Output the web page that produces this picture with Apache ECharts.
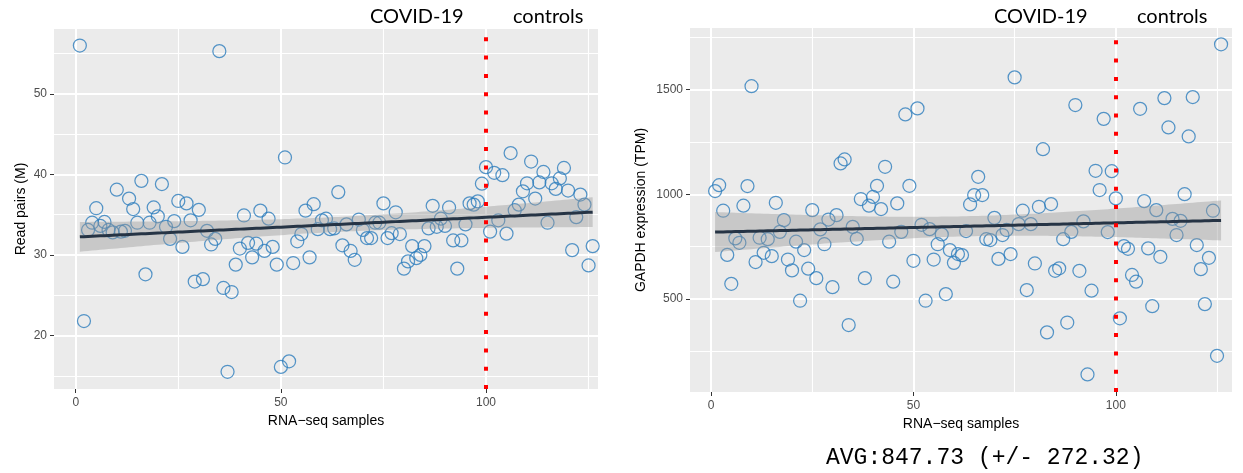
<!DOCTYPE html>
<html><head><meta charset="utf-8">
<script src="https://cdn.jsdelivr.net/npm/echarts@6/dist/echarts.min.js"></script>
<style>html,body{margin:0;padding:0;background:#fff}#c{width:1243px;height:473px}</style>
</head><body><div id="c"></div>
<script>
const samples = [1,2,3,4,5,6,7,8,9,10,11,12,13,14,15,16,17,18,19,20,21,22,23,24,25,26,27,28,29,30,
31,32,33,34,35,36,37,38,39,40,41,42,43,44,45,46,47,48,49,50,51,52,53,54,55,56,57,58,59,60,
61,62,63,64,65,66,67,68,69,70,71,72,73,74,75,76,77,78,79,80,81,82,83,84,85,86,87,88,89,90,
91,92,93,94,95,96,97,98,99,100,101,102,103,104,105,106,107,108,109,110,111,112,113,114,115,116,117,118,119,120,
121,122,123,124,125,126];
const readPairs = [56.0,21.8,33.1,34.0,35.8,33.6,34.1,33.1,32.8,38.1,
32.9,33.0,37.0,35.7,34.0,39.2,27.6,34.0,35.9,34.8,
38.8,33.5,32.0,34.2,36.7,31.0,36.4,34.3,26.7,35.6,
27.0,33.0,31.3,32.0,55.3,25.9,15.5,25.4,28.8,30.8,
34.9,31.5,29.7,31.4,35.5,30.5,34.5,31.0,28.8,16.1,
42.1,16.8,29.0,31.7,32.6,35.5,29.7,36.3,33.2,34.3,
34.5,33.2,33.3,37.8,31.2,33.8,30.5,29.4,34.4,33.1,
32.1,32.1,34.0,34.0,36.4,32.1,32.7,35.3,32.6,28.3,
29.2,31.1,29.6,30.0,31.1,33.3,36.1,33.5,34.5,33.6,
35.9,31.8,28.3,31.8,33.8,36.4,36.25,36.65,38.85,40.9,
32.9,40.2,34.3,39.9,32.65,42.65,35.55,36.25,37.9,38.9,
41.6,37.0,39.0,40.3,34.0,38.9,38.2,39.5,40.8,38.0,
30.6,34.7,37.5,36.25,28.7,31.1];
const gapdh = [1016,1044,922,711,573,790,769,946,1040,1517,
677,793,721,786,705,960,821,877,689,637,
774,492,734,645,925,600,833,762,880,557,
901,1148,1167,376,845,788,978,600,946,988,
1041,930,1132,774,583,957,821,1382,1041,683,
1411,855,492,834,689,762,809,524,734,673,
715,710,825,952,997,1084,997,786,782,888,
692,806,830,715,1559,858,922,543,858,670,
941,1216,341,954,635,647,786,388,821,1427,
635,871,140,540,1113,1021,1361,820,1111,981,
408,753,740,615,583,1409,968,742,466,925,
702,1460,1320,883,806,874,1001,1277,1465,758,
643,476,697,922,229,1717];
const xTicks = [0, 50, 100];
const xMinor = [25, 75, 125];
const readTicks = [20, 30, 40, 50];
const readMinor = [15, 25, 35, 45, 55];
const gapdhTicks = [500, 1000, 1500];
const gapdhMinor = [250, 750, 1250, 1750];
const splitSample = 100;
const groupLabels = ['COVID-19', 'controls'];
const xTitle = 'RNA\u2212seq samples';
const readTitle = 'Read pairs (M)';
const gapdhTitle = 'GAPDH expression (TPM)';
const avgText = 'AVG:847.73 (+/- 272.32)';

function fitLM(xs, ys) {
  const n = xs.length;
  const mx = xs.reduce((a, b) => a + b, 0) / n;
  const my = ys.reduce((a, b) => a + b, 0) / n;
  let sxx = 0, sxy = 0;
  for (let i = 0; i < n; i++) { sxx += (xs[i] - mx) ** 2; sxy += (xs[i] - mx) * (ys[i] - my); }
  const b = sxy / sxx, a = my - b * mx;
  let sse = 0;
  for (let i = 0; i < n; i++) sse += (ys[i] - a - b * xs[i]) ** 2;
  const s = Math.sqrt(sse / (n - 2));
  const t = 1.979;
  return xs.map(x => {
    const yh = a + b * x;
    const se = s * Math.sqrt(1 / n + (x - mx) ** 2 / sxx);
    return [x, yh, yh - t * se, yh + t * se];
  });
}
const fitRead = fitLM(samples, readPairs);
const fitGapdh = fitLM(samples, gapdh);

const font = 'Liberation Sans, Arial, sans-serif';
const ptColor = '#2d7dbd';

function xAxisCfg(idx, min, max, gap) {
  return {
    type: 'value', gridIndex: idx, min: min, max: max,
    name: xTitle, nameLocation: 'middle', nameGap: gap,
    nameTextStyle: { fontFamily: font, fontSize: 14, color: '#000' },
    axisLine: { show: false, onZero: false },
    axisTick: { show: true, length: 4, lineStyle: { color: '#333', width: 1 }, customValues: xTicks },
    axisLabel: { customValues: xTicks, fontFamily: font, fontSize: 12, color: '#4d4d4d', margin: 8, formatter: v => String(v) },
    splitLine: { show: false },
    minorSplitLine: { show: false }
  };
}
function yAxisCfg(idx, min, max, ticks, title, gap) {
  return {
    type: 'value', gridIndex: idx, min: min, max: max,
    name: title, nameLocation: 'middle', nameGap: gap,
    nameTextStyle: { fontFamily: font, fontSize: 14, color: '#000' },
    axisLine: { show: false, onZero: false },
    axisTick: { show: true, length: 4, lineStyle: { color: '#333', width: 1 }, customValues: ticks },
    axisLabel: { customValues: ticks, fontFamily: font, fontSize: 12, color: '#4d4d4d', margin: 7, formatter: v => String(v) },
    splitLine: { show: false },
    minorSplitLine: { show: false }
  };
}
function gridLineSeries(idx, yMajor, yMinor) {
  const major = { color: '#ffffff', width: 2, type: 'solid' };
  const minor = { color: '#ffffff', width: 1.1, type: 'solid' };
  const data = []
    .concat(xMinor.map(v => ({ xAxis: v, lineStyle: minor })))
    .concat(yMinor.map(v => ({ yAxis: v, lineStyle: minor })))
    .concat(xTicks.map(v => ({ xAxis: v, lineStyle: major })))
    .concat(yMajor.map(v => ({ yAxis: v, lineStyle: major })));
  return {
    type: 'line', xAxisIndex: idx, yAxisIndex: idx, data: [], z: 1, silent: true,
    markLine: { symbol: 'none', silent: true, animation: false, label: { show: false }, z: 1, data: data }
  };
}
function bandSeries(idx, fit) {
  return {
    type: 'custom', xAxisIndex: idx, yAxisIndex: idx, data: fit, silent: true, z: 3,
    encode: { x: 0, y: [2, 3] },
    renderItem: function (params, api) {
      if (params.dataIndex !== 0) return null;
      const up = fit.map(d => api.coord([d[0], d[3]]));
      const lo = fit.map(d => api.coord([d[0], d[2]])).reverse();
      return { type: 'polygon', shape: { points: up.concat(lo) }, style: { fill: 'rgba(153,153,153,0.42)' } };
    }
  };
}
function lineSeries(idx, fit) {
  return {
    type: 'line', xAxisIndex: idx, yAxisIndex: idx, data: fit.map(d => [d[0], d[1]]),
    showSymbol: false, silent: true, z: 4,
    lineStyle: { color: '#263445', width: 3 },
    markLine: {
      symbol: 'none', silent: true, label: { show: false }, z: 5,
      lineStyle: { color: '#ff0000', width: 4, type: [4, 14.3], cap: 'butt' },
      data: [{ xAxis: splitSample }]
    }
  };
}
function scatterSeries(idx, ys) {
  return {
    type: 'scatter', xAxisIndex: idx, yAxisIndex: idx, data: samples.map((x, i) => [x, ys[i]]),
    symbol: 'circle', symbolSize: 13, z: 2,
    itemStyle: { color: 'rgba(0,0,0,0)', borderColor: ptColor, borderWidth: 1.25 }
  };
}
const labelStyle = { fontFamily: 'Lato, sans-serif', fontSize: 20, fill: '#000' };
const chart = echarts.init(document.getElementById('c'), null, { renderer: 'canvas' });
chart.setOption({
  animation: false,
  backgroundColor: '#fff',
  grid: [
    { left: 54, top: 29, width: 544, height: 360, show: true, backgroundColor: '#ebebeb', borderWidth: 0 },
    { left: 690, top: 28, width: 542, height: 364, show: true, backgroundColor: '#ebebeb', borderWidth: 0 }
  ],
  xAxis: [xAxisCfg(0, -5.3, 127.3, 22), xAxisCfg(1, -5.2, 128.7, 19)],
  yAxis: [yAxisCfg(0, 13.36, 58.05, readTicks, readTitle, 26), yAxisCfg(1, 56, 1795, gapdhTicks, gapdhTitle, 42)],
  series: [
    gridLineSeries(0, readTicks, readMinor), gridLineSeries(1, gapdhTicks, gapdhMinor),
    scatterSeries(0, readPairs), bandSeries(0, fitRead), lineSeries(0, fitRead),
    scatterSeries(1, gapdh), bandSeries(1, fitGapdh), lineSeries(1, fitGapdh)
  ],
  graphic: [
    { type: 'text', left: 370, top: 7, style: Object.assign({ text: groupLabels[0] }, labelStyle) },
    { type: 'text', left: 513, top: 7, style: Object.assign({ text: groupLabels[1] }, labelStyle) },
    { type: 'text', left: 994, top: 7, style: Object.assign({ text: groupLabels[0] }, labelStyle) },
    { type: 'text', left: 1137, top: 7, style: Object.assign({ text: groupLabels[1] }, labelStyle) },
    { type: 'text', left: 826, top: 446, style: { text: avgText, fontFamily: 'Liberation Mono, monospace', fontSize: 23, fill: '#000' } }
  ]
});
</script></body></html>
